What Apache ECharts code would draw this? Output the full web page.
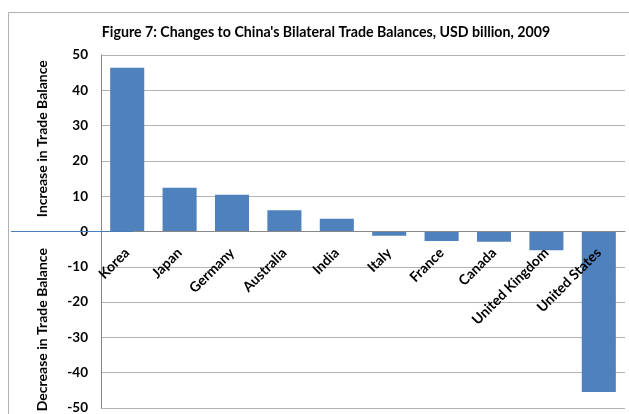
<!DOCTYPE html>
<html><head><meta charset="utf-8">
<script src="https://cdn.jsdelivr.net/npm/echarts@6/dist/echarts.min.js"></script>
<style>html,body{margin:0;padding:0;background:#fff}#c{width:629px;height:414px}</style>
</head><body><div id="c"></div>
<script>
var categories = ['Korea','Japan','Germany','Australia','India','Italy','France','Canada','United Kingdom','United States'];
var values = [46.4, 12.4, 10.4, 6.0, 3.6, -1.2, -2.7, -2.9, -5.3, -45.5];
var titleText = "Figure 7: Changes to China's Bilateral Trade Balances, USD billion, 2009";
var upName = 'Increase in Trade Balance';
var downName = 'Decrease in Trade Balance';
var FONT = 'Lato, "Open Sans", sans-serif';

var chart = echarts.init(document.getElementById('c'), null, {renderer:'canvas'});
var option = {
  animation: false,
  backgroundColor: '#fff',
  title: {
    text: titleText, left: 321, top: 20, textAlign: 'center',
    textStyle: {fontFamily: FONT, fontSize: 14.2, fontWeight: 'bold', color: '#000'}
  },
  grid: {left: 101, right: 4, top: 55, bottom: 6, containLabel: false, outerBoundsMode: 'none'},
  xAxis: {
    type: 'category', data: categories, position: 'bottom', offset: 0, z: 5,
    axisLine: {onZero: false, lineStyle: {color: '#888', width: 1}},
    axisTick: {show: false},
    axisLabel: {interval: 0, rotate: 45, margin: 19, fontFamily: FONT, fontSize: 14, fontWeight: 'bold', color: '#000'}
  },
  yAxis: {
    type: 'value', min: -50, max: 50, interval: 10,
    axisLine: {show: true, lineStyle: {color: '#888', width: 1}},
    axisTick: {show: false},
    splitLine: {lineStyle: {color: '#b3b3b3', width: 1}},
    axisLabel: {margin: 13, fontFamily: FONT, fontSize: 13.5, fontWeight: 'bold', color: '#000'}
  },
  series: [{
    type: 'bar', data: values, barCategoryGap: '35%',
    itemStyle: {color: '#4f81bd'}
  }]
};
chart.setOption(option);

function addGraphics(){
  var y0 = chart.convertToPixel({yAxisIndex:0}, 0);
  var yBottom = chart.convertToPixel({yAxisIndex:0}, -50);
  var yUp = chart.convertToPixel({yAxisIndex:0}, 26.3);
  var yDown = chart.convertToPixel({yAxisIndex:0}, -27.8);
  var xK = chart.convertToPixel({xAxisIndex:0}, 0);
  chart.setOption({
    xAxis: {offset: -(yBottom - y0)},
    graphic: [
    {type:'rect', shape:{x:8.5, y:12.5, width:640, height:420}, style:{fill:'none', stroke:'#b0b0b0', lineWidth:1}, silent:true, z:-1},
    {type:'line', shape:{x1:11, y1:y0, x2:xK+6, y2:y0}, style:{stroke:'#4a7ebb', lineWidth:1}, z:10},
    {type:'text', x:42, y:yUp, rotation:Math.PI/2, style:{text:upName, fontFamily:FONT, fontSize:14, fontWeight:'bold', fill:'#000', textAlign:'center', textVerticalAlign:'middle'}},
    {type:'text', x:42, y:yDown, rotation:Math.PI/2, style:{text:downName, fontFamily:FONT, fontSize:14, fontWeight:'bold', fill:'#000', textAlign:'center', textVerticalAlign:'middle'}}
  ]});
}
addGraphics();
</script></body></html>
